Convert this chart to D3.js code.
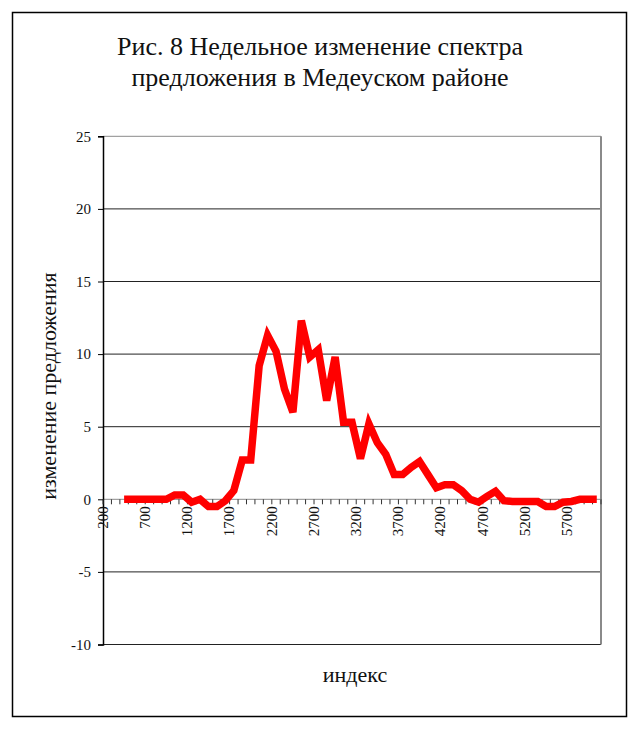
<!DOCTYPE html>
<html>
<head>
<meta charset="utf-8">
<script src="https://cdn.jsdelivr.net/npm/d3@7"></script>
<style>
  body { margin: 0; background: #fff; }
  text { font-family: "Liberation Serif", "Times New Roman", serif; }
</style>
</head>
<body>
<div id="chart"></div>
<script>
var width = 639,
    height = 742;

var margin = {left: 103, right: 601, top: 136.3, bottom: 644.5};

var categories = [200, 300, 400, 500, 600, 700, 800, 900, 1000, 1100,
    1200, 1300, 1400, 1500, 1600, 1700, 1800, 1900, 2000, 2100,
    2200, 2300, 2400, 2500, 2600, 2700, 2800, 2900, 3000, 3100,
    3200, 3300, 3400, 3500, 3600, 3700, 3800, 3900, 4000, 4100,
    4200, 4300, 4400, 4500, 4600, 4700, 4800, 4900, 5000, 5100,
    5200, 5300, 5400, 5500, 5600, 5700, 5800, 5900, 6000];

// недельное изменение (null = нет данных)
var values = [null, null, 0, 0, 0, 0, 0, 0, 0.3, 0.3,
    -0.2, 0, -0.5, -0.5, -0.1, 0.6, 2.7, 2.7, 9.2, 11.3,
    10.2, 7.6, 6.0, 12.3, 9.8, 10.3, 6.8, 9.8, 5.3, 5.3,
    2.8, 5.2, 3.9, 3.1, 1.7, 1.7, 2.2, 2.6, 1.7, 0.8,
    1.0, 1.0, 0.6, 0, -0.2, 0.2, 0.55, -0.1, -0.15, -0.15,
    -0.15, -0.15, -0.5, -0.5, -0.2, -0.15, 0, 0, 0];

var tickLabels = [200, 700, 1200, 1700, 2200, 2700, 3200, 3700, 4200, 4700, 5200, 5700];
var yTicks = [-10, -5, 0, 5, 10, 15, 20, 25];

var svg = d3.select("#chart").append("svg")
    .attr("width", width)
    .attr("height", height);

// рамка диаграммы
svg.append("rect")
    .attr("x", 12.5)
    .attr("y", 12.5)
    .attr("width", 614)
    .attr("height", 704)
    .attr("fill", "none")
    .attr("stroke", "#000")
    .attr("stroke-width", 1.5);

var title = svg.append("text")
    .attr("text-anchor", "middle")
    .attr("font-size", 26)
    .style("fill", "#111");
title.append("tspan").attr("x", 320).attr("y", 55).text("Рис. 8 Недельное изменение спектра");
title.append("tspan").attr("x", 320).attr("y", 86).text("предложения в Медеуском районе");

var x = d3.scaleBand()
    .domain(categories)
    .range([margin.left, margin.right])
    .paddingInner(0)
    .paddingOuter(0);

var y = d3.scaleLinear()
    .domain([-10, 25])
    .range([margin.bottom, margin.top]);

var cx = function (c) {
    return x(c) + x.bandwidth() / 2;
};

// сетка
svg.selectAll(".grid")
    .data(yTicks)
    .enter()
    .append("line")
    .attr("class", "grid")
    .attr("x1", margin.left)
    .attr("x2", margin.right)
    .attr("y1", function (d) { return y(d); })
    .attr("y2", function (d) { return y(d); })
    .style("stroke", function (d) { return d == 0 || d == 25 ? "#8a8a8a" : "#222"; })
    .style("stroke-width", 1);

// правая граница области построения
svg.append("line")
    .attr("x1", margin.right)
    .attr("x2", margin.right)
    .attr("y1", y(25))
    .attr("y2", y(-10))
    .style("stroke", "#8a8a8a")
    .style("stroke-width", 2);

// ось Y
var yAxis = d3.axisLeft(y)
    .tickValues(yTicks)
    .tickSize(5)
    .tickPadding(7)
    .tickFormat(function (d) { return String(d); });

var gy = svg.append("g")
    .attr("transform", "translate(" + margin.left + ",0)")
    .call(yAxis);
gy.select(".domain").attr("stroke", "#000").attr("stroke-width", 1.5);
gy.selectAll(".tick line").attr("stroke", "#000");
gy.selectAll(".tick text")
    .attr("font-size", 15)
    .attr("font-family", "Liberation Serif")
    .style("fill", "#111");

// ось X: засечки на границах категорий
var xAxis = d3.axisBottom(x)
    .tickValues(categories)
    .tickSize(0)
    .tickFormat("");

var gx = svg.append("g")
    .attr("transform", "translate(0," + y(0) + ")")
    .call(xAxis);
gx.select(".domain").remove();

gx.selectAll(".bound")
    .data(categories.concat([null]))
    .enter()
    .append("line")
    .attr("class", "bound")
    .attr("x1", function (d, i) { return margin.left + i * x.bandwidth(); })
    .attr("x2", function (d, i) { return margin.left + i * x.bandwidth(); })
    .attr("y1", 0)
    .attr("y2", 5)
    .style("stroke", "#333")
    .style("stroke-width", 1);

gx.selectAll(".xlab")
    .data(tickLabels)
    .enter()
    .append("text")
    .attr("class", "xlab")
    .attr("transform", function (d) {
        return "translate(" + (cx(d) + 0.5) + ",7) rotate(-90)";
    })
    .attr("text-anchor", "end")
    .attr("font-size", 15)
    .style("fill", "#111")
    .text(function (d) { return d; });

// линия ряда
var line = d3.line()
    .defined(function (d) { return d.v !== null; })
    .x(function (d) { return cx(d.c); })
    .y(function (d) { return y(d.v); });

var series = categories.map(function (c, i) {
    return {c: c, v: values[i]};
});

svg.append("path")
    .datum(series)
    .attr("d", line)
    .attr("fill", "none")
    .style("stroke", "#ff0000")
    .style("stroke-width", 7.5)
    .style("stroke-linejoin", "miter")
    .style("stroke-miterlimit", 4);

// подписи осей
svg.append("text")
    .attr("transform", "translate(56,386) rotate(-90)")
    .attr("text-anchor", "middle")
    .attr("font-size", 22)
    .style("fill", "#111")
    .text("изменение предложения");

svg.append("text")
    .attr("x", 355)
    .attr("y", 682)
    .attr("text-anchor", "middle")
    .attr("font-size", 22)
    .style("fill", "#111")
    .text("индекс");
</script>
</body>
</html>
